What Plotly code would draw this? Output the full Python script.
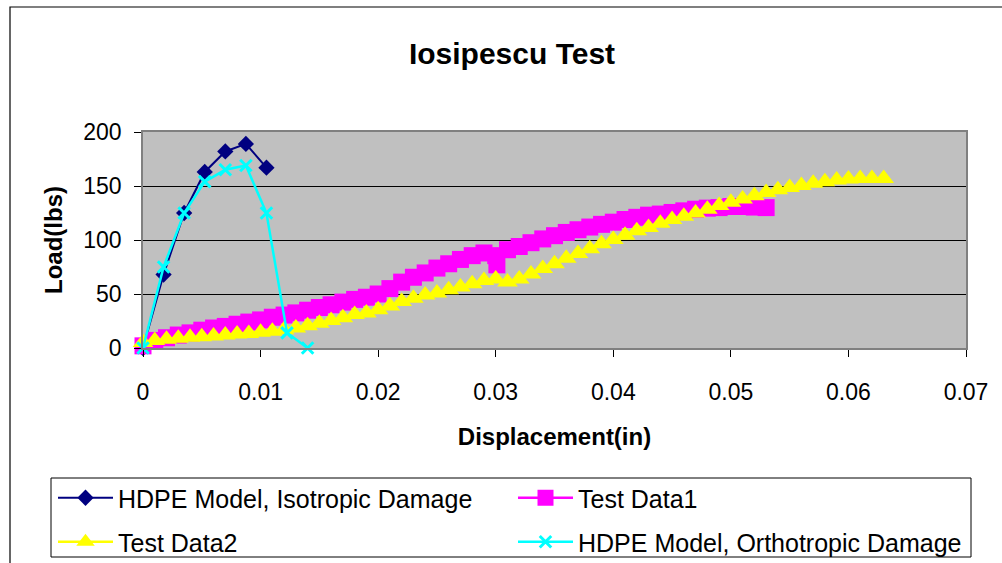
import plotly.graph_objects as go

FONT = "Arial, 'Liberation Sans', sans-serif"

# Finite-element model runs
iso_disp = [0, 0.00175, 0.0035, 0.00525, 0.007, 0.00875, 0.0105]
iso_load = [0, 68, 125, 163, 182, 189, 167]

ortho_disp = [0, 0.00175, 0.0035, 0.00525, 0.007, 0.00875, 0.0105, 0.01225, 0.014]
ortho_load = [0, 75, 125, 154, 165, 169, 125, 14, 0]

# Measured load-displacement curves
test1_disp = [0.000, 0.001, 0.002, 0.003, 0.004, 0.005, 0.006, 0.007, 0.008, 0.009,
              0.010, 0.011, 0.012, 0.013, 0.014, 0.015, 0.016, 0.017, 0.018, 0.019,
              0.020, 0.021, 0.022, 0.023, 0.024, 0.025, 0.026, 0.027, 0.028, 0.029,
              0.0300, 0.0301, 0.031, 0.032, 0.033, 0.034, 0.035, 0.036, 0.037, 0.038,
              0.039, 0.040, 0.041, 0.042, 0.043, 0.044, 0.045, 0.046, 0.047, 0.048,
              0.049, 0.050, 0.051, 0.052, 0.053]
test1_load = [2, 7, 9.5, 12, 14, 16.5, 18.5, 20, 22, 24,
              26, 28.5, 30.5, 32.5, 35, 37.5, 40, 42.5, 45, 47,
              50, 55, 61, 65.5, 69.5, 74, 78, 82, 85.5, 88,
              85.5, 77, 91, 94, 97.5, 101, 104, 107, 109.5, 112,
              114.5, 116.5, 119, 121, 123, 124, 125.5, 127, 128.5, 129.5,
              130, 131, 131, 130.5, 130]

test2_disp = [0.000, 0.001, 0.002, 0.003, 0.004, 0.005, 0.006, 0.007, 0.008, 0.009,
              0.010, 0.011, 0.012, 0.013, 0.014, 0.015, 0.016, 0.017, 0.018, 0.019,
              0.020, 0.021, 0.022, 0.023, 0.024, 0.025, 0.026, 0.027, 0.028, 0.029,
              0.030, 0.031, 0.032, 0.033, 0.034, 0.035, 0.036, 0.037, 0.038, 0.039,
              0.040, 0.041, 0.042, 0.043, 0.044, 0.045, 0.046, 0.047, 0.048, 0.049,
              0.050, 0.051, 0.052, 0.053, 0.054, 0.055, 0.056, 0.057, 0.058, 0.059,
              0.060, 0.061, 0.062, 0.063]
test2_load = [5, 7, 8, 9, 10, 10.5, 11, 12, 13, 13.5,
              14.5, 15.5, 17, 18.5, 20.5, 23, 25.5, 28, 31, 32.5,
              35.5, 39, 43, 46, 49, 51, 54, 56.5, 59.5, 62.5,
              64, 61, 64, 68.5, 73.5, 78, 83, 87.5, 92, 96.5,
              100.5, 104.5, 108.5, 111.5, 115.5, 119, 122, 125, 128.5, 132,
              135, 138, 141, 144, 146.5, 148.5, 150.5, 152.5, 154, 155.5,
              156.5, 157, 157, 157]

W, H = 1002, 563
L, R, T, B = 143, 36, 132, 215
PW, PH = W - L - R, H - T - B


def px_x(px):
    """Figure pixel column -> paper x."""
    return (px - L) / PW


def px_y(py):
    """Figure pixel row -> paper y."""
    return (H - B - py) / PH


fig = go.Figure()
fig.add_trace(go.Scatter(
    x=iso_disp, y=iso_load, name="HDPE Model, Isotropic Damage", mode="lines+markers",
    line=dict(color="#000080", width=2),
    marker=dict(symbol="diamond", size=12.5, color="#000080", line=dict(width=0)),
    cliponaxis=False, legend="legend",
))
fig.add_trace(go.Scatter(
    x=test1_disp, y=test1_load, name="Test Data1", mode="lines+markers",
    line=dict(color="#FF00FF", width=2.5),
    marker=dict(symbol="square", size=17, color="#FF00FF", line=dict(width=0)),
    cliponaxis=False, legend="legend",
))
fig.add_trace(go.Scatter(
    x=test2_disp, y=test2_load, name="Test Data2", mode="lines+markers",
    line=dict(color="#FFFF00", width=2.5),
    marker=dict(symbol="triangle-up", size=18, color="#FFFF00", line=dict(width=0)),
    cliponaxis=False, legend="legend2",
))
fig.add_trace(go.Scatter(
    x=ortho_disp, y=ortho_load, name="HDPE Model, Orthotropic Damage", mode="lines+markers",
    line=dict(color="#00FFFF", width=2.5),
    marker=dict(symbol="x-thin", size=11.5, color="#00FFFF", line=dict(color="#00FFFF", width=3)),
    cliponaxis=False, legend="legend2",
))

axis_common = dict(
    showline=True, linecolor="#808080", linewidth=1.5, mirror=True,
    ticks="outside", ticklen=7, tickcolor="#000000", tickwidth=1,
    tickfont=dict(family=FONT, size=23, color="#000000"),
    zeroline=False,
)

legend_common = dict(
    orientation="h", xanchor="left", yanchor="top",
    bgcolor="rgba(0,0,0,0)", borderwidth=0,
    font=dict(family=FONT, size=25, color="#000000"),
    itemwidth=55, entrywidth=390, traceorder="normal",
)

fig.update_layout(
    width=W, height=H,
    margin=dict(l=L, r=R, t=T, b=B, autoexpand=False),
    paper_bgcolor="#FFFFFF", plot_bgcolor="#C0C0C0",
    font=dict(family=FONT, color="#000000"),
    title=dict(text="Iosipescu Test", x=512 / W, xref="container", xanchor="center",
               y=1 - 53 / H, yref="container", yanchor="middle",
               font=dict(family=FONT, size=30, weight="bold")),
    xaxis=dict(range=[0, 0.07], tick0=0, dtick=0.01, showgrid=False, ticklabelstandoff=16,
               title=dict(text="Displacement(in)", standoff=24,
                          font=dict(family=FONT, size=24, weight="bold")),
               **axis_common),
    yaxis=dict(range=[0, 200], tick0=0, dtick=50, showgrid=True,
               gridcolor="#000000", gridwidth=1, ticklabelstandoff=8,
               title=dict(text="Load(lbs)", standoff=14,
                          font=dict(family=FONT, size=24, weight="bold")),
               **axis_common),
    legend=dict(x=px_x(53), y=px_y(475), **legend_common),
    legend2=dict(x=px_x(53), y=px_y(519), **legend_common),
    shapes=[
        # outer chart-area frame (runs off the right and bottom edges)
        dict(type="rect", xref="paper", yref="paper",
             x0=px_x(10), x1=px_x(1012), y0=px_y(575), y1=px_y(7),
             line=dict(color="#000000", width=1.2), fillcolor="rgba(0,0,0,0)"),
        # legend box
        dict(type="rect", xref="paper", yref="paper",
             x0=px_x(51), x1=px_x(971), y0=px_y(557), y1=px_y(478),
             line=dict(color="#000000", width=1), fillcolor="rgba(0,0,0,0)"),
    ],
)

# the page's default body margin would shift the whole chart by 8px
fig.write_html("out.html", config={"displayModeBar": False},
               post_script="document.body.style.margin='0';document.body.style.overflow='hidden';")
